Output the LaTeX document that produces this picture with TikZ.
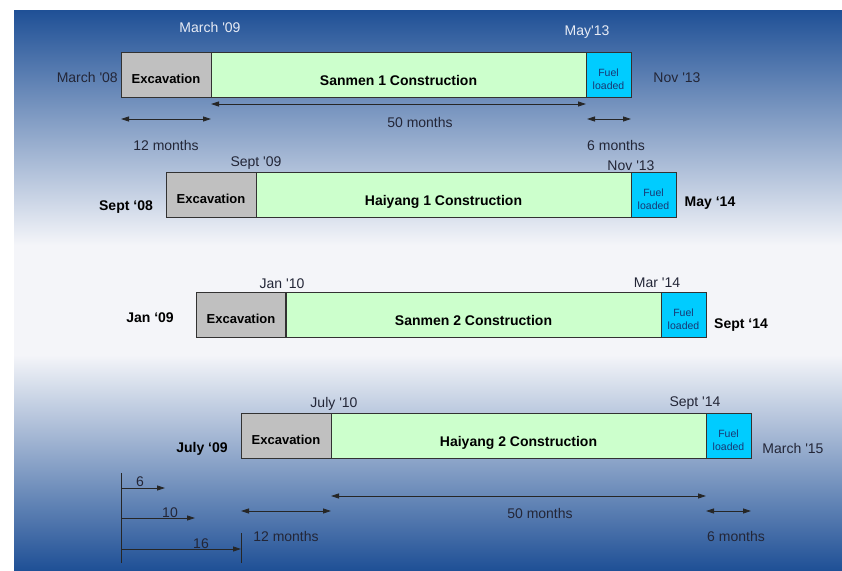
\documentclass[tikz,border=0pt]{standalone}
\usepackage{fontspec}
\setmainfont{Liberation Sans}
\usetikzlibrary{arrows.meta}
\definecolor{bgblue}{RGB}{31,80,150}
\definecolor{bgmid}{RGB}{244,245,249}
\definecolor{excgray}{RGB}{192,192,192}
\definecolor{congreen}{RGB}{204,255,204}
\definecolor{fuelcyan}{RGB}{0,204,255}
\definecolor{fueltext}{RGB}{25,55,115}
\definecolor{darktext}{RGB}{35,38,55}
\definecolor{lighttext}{RGB}{232,236,245}
\definecolor{boxline}{RGB}{50,50,50}
\newcommand{\q}{\textquotesingle}
\begin{document}
\begin{tikzpicture}[x=1pt,y=-1pt,
  bar/.style={draw=boxline, line width=0.9pt, minimum height=45, inner sep=0, outer sep=0, anchor=north west},
  exc/.style={bar, fill=excgray, minimum width=90, text height=18, text depth=0, font=\fontsize{13}{15}\selectfont\bfseries},
  con/.style={bar, fill=congreen, minimum width=375, text height=21, text depth=0, font=\fontsize{14}{16}\selectfont\bfseries},
  fuel/.style={bar, fill=fuelcyan, minimum width=45},
  fueltxt/.style={inner sep=0, align=center, text=fueltext, font=\fontsize{10.5}{13}\selectfont},
  lbl/.style={inner sep=0, text=darktext, font=\fontsize{14}{16}\selectfont},
  wlbl/.style={lbl, text=lighttext},
  blbl/.style={inner sep=0, text=black, font=\fontsize{14}{16}\selectfont\bfseries},
  dim/.style={draw=black!85, line width=0.8pt, {Triangle[length=8pt,width=5pt]}-{Triangle[length=8pt,width=5pt]}},
  sarrow/.style={draw=black!85, line width=0.8pt, -{Triangle[length=8pt,width=5pt]}},
  tick/.style={draw=black!85, line width=0.8pt}]
\useasboundingbox (0,0) rectangle (842,570);
% background
\fill[white] (0,0) rectangle (842,570);
\shade[top color=bgblue, bottom color=bgmid] (14,10) rectangle (842,245);
\fill[bgmid] (14,245) rectangle (842,355);
\shade[top color=bgmid, bottom color=bgblue] (14,355) rectangle (842,570);

% ---------- Row 1: Sanmen 1
\node[exc] (e1) at (121,52) {Excavation};
\node[con] (c1) at (211,52) {Sanmen 1 Construction};
\node[fuel] (f1) at (586,52) {};
\node[fueltxt] (f1t) at ([yshift=-5]f1.center) {Fuel\\loaded};
\node[wlbl] (l1a) at (210,27) {March \q09};
\node[wlbl] (l1b) at (587,32) {May\q13};
\node[lbl, anchor=east] (l1c) at (118,77) {March \q08};
\node[lbl] (l1d) at (677,78) {Nov \q13};
\coordinate (a1s) at (121,119); \coordinate (a1m) at (211,119);
\coordinate (b1s) at (211,104); \coordinate (b1e) at (586,104);
\coordinate (d1s) at (587,119); \coordinate (d1e) at (631,119);
\draw[dim] (a1s) -- (a1m);
\draw[dim] (b1s) -- (b1e);
\draw[dim] (d1s) -- (d1e);
\node[lbl] (m1a) at (166,145) {12 months};
\node[lbl] (m1b) at (420,122) {50 months};
\node[lbl] (m1c) at (616,145) {6 months};

% ---------- Row 2: Haiyang 1
\node[exc] (e2) at (166,172) {Excavation};
\node[con] (c2) at (256,172) {Haiyang 1 Construction};
\node[fuel] (f2) at (631,172) {};
\node[fueltxt] (f2t) at ([yshift=-5]f2.center) {Fuel\\loaded};
\node[lbl] (l2a) at (256,163) {Sept \q09};
\node[lbl] (l2b) at (631,166) {Nov \q13};
\node[blbl] (l2c) at (126,207) {Sept ‘08};
\node[blbl] (l2d) at (710,203) {May ‘14};

% ---------- Row 3: Sanmen 2
\node[exc] (e3) at (196,292) {Excavation};
\node[con] (c3) at (286,292) {Sanmen 2 Construction};
\node[fuel] (f3) at (661,292) {};
\node[fueltxt] (f3t) at ([yshift=-5]f3.center) {Fuel\\loaded};
\draw[boxline, line width=1.6pt] (e3.north east) -- (e3.south east);
\node[lbl] (l3a) at (282,284) {Jan \q10};
\node[lbl] (l3b) at (657,283) {Mar \q14};
\node[blbl] (l3c) at (150,318) {Jan ‘09};
\node[blbl] (l3d) at (741,325) {Sept ‘14};

% ---------- Row 4: Haiyang 2
\node[exc] (e4) at (241,413) {Excavation};
\node[con] (c4) at (331,413) {Haiyang 2 Construction};
\node[fuel] (f4) at (706,413) {};
\node[fueltxt] (f4t) at ([yshift=-5]f4.center) {Fuel\\loaded};
\node[lbl] (l4a) at (334,404) {July \q10};
\node[lbl] (l4b) at (695,403) {Sept \q14};
\node[blbl] (l4c) at (202,449) {July ‘09};
\node[lbl] (l4d) at (793,448) {March \q15};
\coordinate (a4s) at (241,511); \coordinate (a4m) at (331,511);
\coordinate (b4s) at (331,496); \coordinate (b4e) at (706,496);
\coordinate (d4s) at (706,511); \coordinate (d4e) at (751,511);
\draw[dim] (a4s) -- (a4m);
\draw[dim] (b4s) -- (b4e);
\draw[dim] (d4s) -- (d4e);
\node[lbl] (m4a) at (286,536) {12 months};
\node[lbl] (m4b) at (540,513) {50 months};
\node[lbl] (m4c) at (736,536) {6 months};

% ---------- offset scale
\coordinate (v0) at (121,473); \coordinate (v1) at (121,563);
\draw[tick] (v0) -- (v1);
\coordinate (s6a) at (121,488); \coordinate (s6b) at (165,488);
\coordinate (s10a) at (121,518); \coordinate (s10b) at (195,518);
\coordinate (s16a) at (121,549); \coordinate (s16b) at (241,549);
\coordinate (t0) at (241,533); \coordinate (t1) at (241,563);
\draw[sarrow] (s6a) -- (s6b);
\draw[sarrow] (s10a) -- (s10b);
\draw[sarrow] (s16a) -- (s16b);
\draw[tick] (t0) -- (t1);
\node[lbl] (n6) at (140,482) {6};
\node[lbl] (n10) at (170,513) {10};
\node[lbl] (n16) at (201,544) {16};
\end{tikzpicture}
\end{document}
